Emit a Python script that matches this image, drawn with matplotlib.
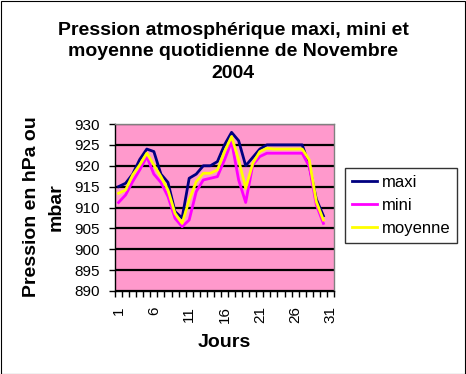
import numpy as np
import matplotlib
matplotlib.use("Agg")
import matplotlib.pyplot as plt
from matplotlib.patches import Rectangle

days = list(range(1, 32))
maxi = [915, 915.8, 918, 921.5, 924, 923.4, 918, 916, 909, 907.5,
        917, 918, 920, 920, 921, 925, 928, 926, 920, 922,
        924, 925, 925, 925, 925, 925, 925, 920, 912, 908, np.nan]
mini = [911.2, 913, 916.2, 919, 922.2, 918, 916, 912.6, 907.4, 905.4,
        907, 913.8, 916.6, 917, 917.4, 921.4, 925.8, 916.6, 911.2, 920.2,
        922.2, 923, 923, 923, 923, 923, 923, 919.8, 910.6, 906.2, np.nan]
moyenne = [913.4, 914.2, 917.8, 920.2, 923, 920.2, 917.4, 914.2, 908.6, 906.2,
           911.8, 916.2, 918.2, 918.2, 919, 923.4, 927, 921.4, 914.6, 920.6,
           923.4, 924.2, 924, 924, 924, 924, 924, 921.4, 911.4, 907, np.nan]
yticks = [890, 895, 900, 905, 910, 915, 920, 925, 930]
xlabels = [1, 6, 11, 16, 21, 26, 31]

plt.rcParams['font.family'] = ['Liberation Sans', 'DejaVu Sans']

W, H = 466, 374
fig = plt.figure(figsize=(W / 100, H / 100), dpi=100)
fig.patch.set_facecolor('white')
fig.add_artist(Rectangle((0.5 / W, 0.5 / H), (W - 1.5) / W, (H - 1.5) / H,
                         transform=fig.transFigure, fill=False,
                         edgecolor='black', linewidth=0.8))

ax = fig.add_axes([115 / W, (H - 291) / H, (334 - 115) / W, (291 - 124) / H])
ax.set_facecolor('#FF99CC')

for y in yticks:
    ax.axhline(y, color='black', linewidth=1.6, zorder=1)

ax.plot(days, maxi, color='#000080', linewidth=2.0, label='maxi', zorder=3)
ax.plot(days, mini, color='#FF00FF', linewidth=2.0, label='mini', zorder=4)
ax.plot(days, moyenne, color='#FFFF00', linewidth=2.0, label='moyenne', zorder=5)

ax.set_xlim(0.5, 31.5)
ax.set_ylim(890, 930)
ax.set_yticks(yticks)
ax.set_yticklabels([str(v) for v in yticks], fontsize=11)
ax.set_xticks(xlabels)
ax.set_xticklabels([str(v) for v in xlabels], fontsize=11, rotation=90)
ax.set_xticks(np.arange(0.5, 32, 1), minor=True)
ax.tick_params(axis='x', which='major', length=0, pad=11)
ax.tick_params(axis='x', which='minor', length=4, width=1, direction='out')
ax.tick_params(axis='y', length=4, width=1, direction='out', pad=7)

for side in ['top', 'right']:
    ax.spines[side].set_color('#808080')
    ax.spines[side].set_linewidth(1)
for side in ['left', 'bottom']:
    ax.spines[side].set_color('black')
    ax.spines[side].set_linewidth(1)

ax.set_xlabel('Jours', fontsize=14, fontweight='bold', labelpad=8)
fig.text(44 / W, 1 - 207 / H, 'Pression en hPa ou\nmbar', rotation=90,
         ha='center', va='center', fontsize=14, fontweight='bold',
         linespacing=1.55, multialignment='center')

fig.text(233 / W, 1 - 52 / H,
         'Pression atmosphérique maxi, mini et\nmoyenne quotidienne de Novembre\n2004',
         ha='center', va='center', fontsize=14, fontweight='bold', linespacing=1.35)

leg = fig.legend(loc='upper left', bbox_to_anchor=(345 / W, 1 - 168 / H),
                 fontsize=12, frameon=True, fancybox=False, edgecolor='black',
                 handlelength=1.5, handletextpad=0.3, borderpad=0.4,
                 labelspacing=0.5, borderaxespad=0)
leg.get_frame().set_linewidth(1)

fig.savefig('out.png', dpi=100, facecolor='white')
